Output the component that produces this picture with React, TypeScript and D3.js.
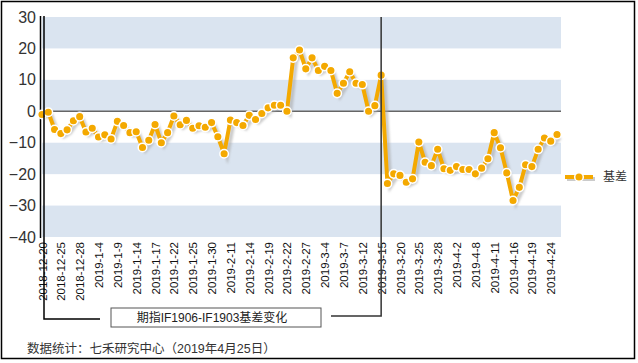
import React, { useRef, useEffect } from 'react';
import * as d3 from 'd3';

// trading days, 2018-12-20 .. 2019-4-25
const dates = [
  '2018-12-20', '2018-12-21', '2018-12-24', '2018-12-25', '2018-12-26', '2018-12-27', '2018-12-28',
  '2019-1-2', '2019-1-3', '2019-1-4', '2019-1-7', '2019-1-8', '2019-1-9', '2019-1-10', '2019-1-11',
  '2019-1-14', '2019-1-15', '2019-1-16', '2019-1-17', '2019-1-18', '2019-1-21', '2019-1-22', '2019-1-23',
  '2019-1-24', '2019-1-25', '2019-1-28', '2019-1-29', '2019-1-30', '2019-1-31',
  '2019-2-1', '2019-2-11', '2019-2-12', '2019-2-13', '2019-2-14', '2019-2-15', '2019-2-18', '2019-2-19',
  '2019-2-20', '2019-2-21', '2019-2-22', '2019-2-25', '2019-2-26', '2019-2-27', '2019-2-28',
  '2019-3-1', '2019-3-4', '2019-3-5', '2019-3-6', '2019-3-7', '2019-3-8', '2019-3-11', '2019-3-12',
  '2019-3-13', '2019-3-14', '2019-3-15', '2019-3-18', '2019-3-19', '2019-3-20', '2019-3-21', '2019-3-22',
  '2019-3-25', '2019-3-26', '2019-3-27', '2019-3-28', '2019-3-29',
  '2019-4-1', '2019-4-2', '2019-4-3', '2019-4-4', '2019-4-8', '2019-4-9', '2019-4-10', '2019-4-11',
  '2019-4-12', '2019-4-15', '2019-4-16', '2019-4-17', '2019-4-18', '2019-4-19', '2019-4-22', '2019-4-23',
  '2019-4-24', '2019-4-25',
];

const basis = [
  -1.0, -0.3, -5.8, -7.1, -5.9, -3.0, -1.7,
  -6.6, -5.4, -8.2, -7.5, -8.8, -3.2, -4.5, -6.8,
  -6.5, -11.5, -9.2, -4.2, -10.0, -6.8, -1.5, -4.3,
  -2.9, -5.4, -4.6, -5.1, -3.6, -8.1,
  -13.5, -2.8, -3.6, -4.5, -1.3, -2.6, -0.7, 1.1,
  1.9, 1.9, 0.0, 17.0, 19.5, 13.5, 17.0,
  13.0, 14.3, 13.0, 5.7, 8.9, 12.6, 8.9, 8.5,
  0.0, 1.8, 11.5, -23.0, -19.9, -20.4, -22.6, -21.5,
  -9.8, -16.2, -17.3, -12.1, -18.3,
  -18.8, -17.6, -18.5, -18.5, -19.9, -18.1, -15.1, -6.8,
  -11.6, -19.6, -28.4, -24.2, -17.0, -17.6, -12.1, -8.5,
  -9.5, -7.4,
];

const yTicks = [30, 20, 10, 0, -10, -20, -30, -40];
const labelEvery = 3;
const seriesName = '基差';
const markDates = ['2018-12-20', '2019-3-15'];
const boxTitle = '期指IF1906-IF1903基差变化';
const footnote = '数据统计：七禾研究中心（2019年4月25日）';

const FONT = '"Liberation Sans", Arial, "Noto Sans CJK SC", sans-serif';
const ORANGE = '#f4a900';

function BasisChart() {
  const svgRef = useRef<SVGSVGElement>(null);

  useEffect(() => {
    const svg = d3.select(svgRef.current);
    svg.selectAll('*').remove();

    const left = 42;
    const right = 557;
    const plotRight = 561;
    const top = 17;
    const bottom = 237;

    const x = d3.scaleLinear().domain([0, dates.length - 1]).range([left, right]);
    const y = d3.scaleLinear().domain([-40, 30]).range([bottom, top]);

    // shadow filter for the line
    const defs = svg.append('defs');
    defs
      .append('filter')
      .attr('id', 'blur')
      .append('feGaussianBlur')
      .attr('stdDeviation', 0.8);

    // outer frame
    svg
      .append('rect')
      .attr('x', 1.5)
      .attr('y', 1.5)
      .attr('width', 633)
      .attr('height', 357)
      .attr('fill', '#fff')
      .attr('stroke', '#000')
      .attr('stroke-width', 1.5);

    // alternating bands
    const bands = d3.pairs(yTicks).filter((_, i) => i % 2 === 0);
    svg
      .append('g')
      .selectAll('rect')
      .data(bands)
      .join('rect')
      .attr('x', left)
      .attr('width', plotRight - left)
      .attr('y', (d) => y(d[0]))
      .attr('height', (d) => y(d[1]) - y(d[0]))
      .attr('fill', '#dae4f0');

    // zero line
    svg
      .append('line')
      .attr('x1', left)
      .attr('x2', plotRight)
      .attr('y1', y(0))
      .attr('y2', y(0))
      .attr('stroke', '#666')
      .attr('stroke-width', 1.5);

    // y axis
    const yAxis = svg
      .append('g')
      .attr('transform', 'translate(36,0)')
      .call(d3.axisLeft(y).tickValues(yTicks).tickSize(0).tickPadding(0));
    yAxis.select('.domain').remove();
    yAxis
      .selectAll('text')
      .attr('font-family', FONT)
      .attr('font-size', 16)
      .attr('fill', '#333');

    svg
      .append('line')
      .attr('x1', 40.5)
      .attr('x2', 40.5)
      .attr('y1', top - 1)
      .attr('y2', bottom + 1)
      .attr('stroke', '#000')
      .attr('stroke-width', 1.5);

    // x axis labels
    const xAxis = svg
      .append('g')
      .attr('transform', `translate(0,${bottom})`)
      .call(
        d3
          .axisBottom(x)
          .tickValues(d3.range(0, dates.length - 1, labelEvery))
          .tickFormat((i) => dates[i as number])
          .tickSize(0)
      );
    xAxis.select('.domain').remove();
    xAxis
      .selectAll('text')
      .attr('font-family', FONT)
      .attr('font-size', 11.5)
      .attr('fill', '#111')
      .attr('text-anchor', 'end')
      .attr('transform', 'rotate(-90)')
      .attr('x', -5)
      .attr('y', 0)
      .attr('dy', '0.35em');

    // series
    const line = d3
      .line<number>()
      .x((_, i) => x(i))
      .y((d) => y(d));

    svg
      .append('path')
      .datum(basis)
      .attr('d', line)
      .attr('transform', 'translate(3,3)')
      .attr('fill', 'none')
      .attr('stroke', '#a8a8a8')
      .attr('stroke-opacity', 0.6)
      .attr('stroke-width', 4)
      .attr('filter', 'url(#blur)');

    svg
      .append('path')
      .datum(basis)
      .attr('d', line)
      .attr('fill', 'none')
      .attr('stroke', ORANGE)
      .attr('stroke-width', 4)
      .attr('stroke-linejoin', 'round');

    svg
      .append('g')
      .selectAll('circle')
      .data(basis)
      .join('circle')
      .attr('cx', (_, i) => x(i))
      .attr('cy', (d) => y(d))
      .attr('r', 4.3)
      .attr('fill', ORANGE)
      .attr('stroke', '#fff')
      .attr('stroke-width', 1.5);

    // legend
    const lg = svg.append('g').attr('transform', 'translate(565,177)');
    lg.append('line')
      .attr('x1', 2).attr('x2', 30).attr('y1', 2).attr('y2', 2)
      .attr('stroke', '#a8a8a8').attr('stroke-opacity', 0.6).attr('stroke-width', 4);
    lg.append('line')
      .attr('x1', 0).attr('x2', 28).attr('y1', 0).attr('y2', 0)
      .attr('stroke', ORANGE).attr('stroke-width', 4);
    lg.append('circle')
      .attr('cx', 14).attr('cy', 0).attr('r', 4.3)
      .attr('fill', ORANGE).attr('stroke', '#fff').attr('stroke-width', 1.5);
    lg.append('text')
      .attr('x', 38).attr('y', 0).attr('dy', '0.35em')
      .attr('font-family', FONT).attr('font-size', 12).attr('fill', '#333')
      .text(seriesName);

    // annotation box
    svg
      .append('rect')
      .attr('x', 111)
      .attr('y', 308)
      .attr('width', 210)
      .attr('height', 19)
      .attr('fill', '#fff')
      .attr('stroke', '#555')
      .attr('stroke-width', 1);
    svg
      .append('text')
      .attr('x', 212)
      .attr('y', 317.5)
      .attr('dy', '0.35em')
      .attr('text-anchor', 'middle')
      .attr('font-family', FONT)
      .attr('font-size', 12)
      .attr('fill', '#222')
      .text(boxTitle);

    // marker lines linking dates to the box
    const i0 = dates.indexOf(markDates[0]);
    const i1 = dates.indexOf(markDates[1]);
    svg
      .append('path')
      .attr('d', `M${x(i0) + 2},${top - 1}V319H100`)
      .attr('fill', 'none')
      .attr('stroke', '#000')
      .attr('stroke-width', 1.5);
    svg
      .append('path')
      .attr('d', `M${x(i1)},${top}V316H331`)
      .attr('fill', 'none')
      .attr('stroke', '#333')
      .attr('stroke-width', 1.5);

    // footnote
    svg
      .append('text')
      .attr('x', 27)
      .attr('y', 353)
      .attr('font-family', FONT)
      .attr('font-size', 12.5)
      .attr('fill', '#333')
      .text(footnote);
  }, []);

  return (
    <svg
      ref={svgRef}
      width={638}
      height={363}
      style={{ position: 'absolute', left: 0, top: 0 }}
    />
  );
}

export default function App() {
  return <BasisChart />;
}
